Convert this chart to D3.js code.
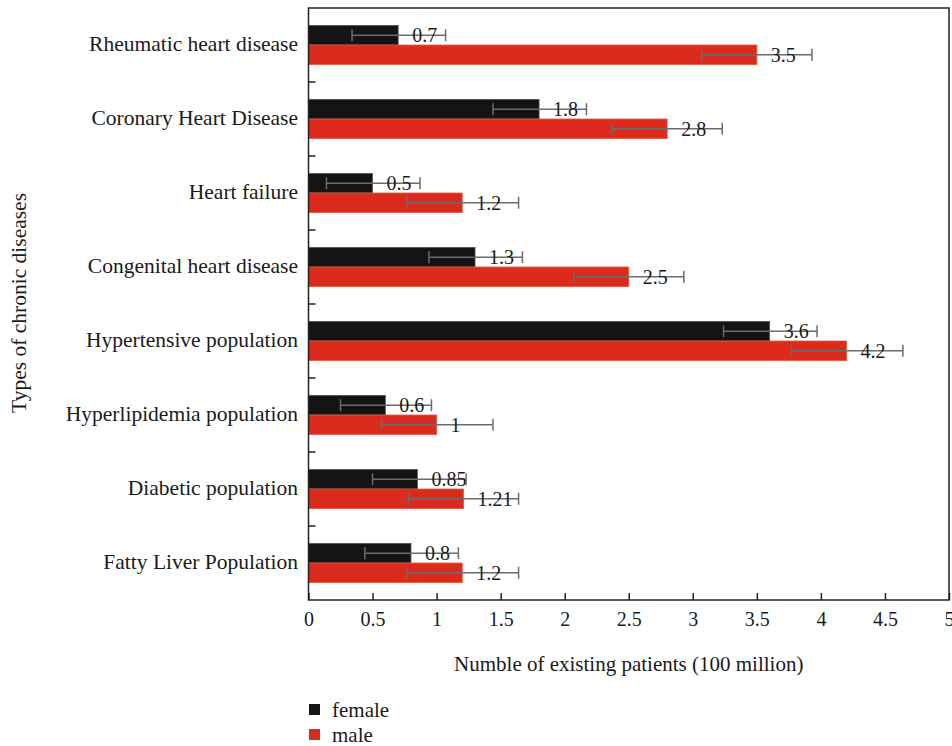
<!DOCTYPE html>
<html><head><meta charset="utf-8">
<script src="https://cdn.jsdelivr.net/npm/d3@7"></script>
<style>body{margin:0;background:#fff}svg{display:block}text{font-family:"Liberation Serif","Times New Roman",serif;fill:#1a1a1a}</style>
</head><body>
<svg id="c" width="952" height="746"></svg>
<script>
const categories = ["Rheumatic heart disease","Coronary Heart Disease","Heart failure","Congenital heart disease","Hypertensive population","Hyperlipidemia population","Diabetic population","Fatty Liver Population"];
const series = ["female","male"];
const femaleValues = [0.7,1.8,0.5,1.3,3.6,0.6,0.85,0.8];
const maleValues = [3.5,2.8,1.2,2.5,4.2,1,1.21,1.2];
const femaleLabels = ["0.7","1.8","0.5","1.3","3.6","0.6","0.85","0.8"];
const maleLabels = ["3.5","2.8","1.2","2.5","4.2","1","1.21","1.2"];
const femaleErrLow = [0.34,1.44,0.14,0.94,3.24,0.25,0.50,0.44];
const femaleErrHigh = [1.07,2.17,0.87,1.67,3.97,0.96,1.23,1.17];
const maleErrLow = [3.07,2.37,0.77,2.07,3.77,0.57,0.78,0.77];
const maleErrHigh = [3.93,3.23,1.64,2.93,4.64,1.44,1.64,1.64];
const xTicks = [0,0.5,1,1.5,2,2.5,3,3.5,4,4.5,5];
const xTickLabels = ["0","0.5","1","1.5","2","2.5","3","3.5","4","4.5","5"];
const colors = {female:"#141414", male:"#dc2a1c"};

const svg = d3.select("#c");
const L=308.5, R=949, T=8, B=600;
const x = d3.scaleLinear().domain([0,5]).range([L,R]);
const y = d3.scaleBand().domain(categories).range([T,B]).paddingInner(0.47).paddingOuter(0.235);
const ys = d3.scaleBand().domain(series).range([0,y.bandwidth()]);

const rows = [];
categories.forEach((c,i)=>{
  rows.push({c, s:"female", v:femaleValues[i], lab:femaleLabels[i], lo:femaleErrLow[i], hi:femaleErrHigh[i]});
  rows.push({c, s:"male", v:maleValues[i], lab:maleLabels[i], lo:maleErrLow[i], hi:maleErrHigh[i]});
});

// bars
svg.append("g").selectAll("rect").data(rows).join("rect")
  .attr("x", x(0)).attr("y", d=>y(d.c)+ys(d.s))
  .attr("width", d=>x(d.v)-x(0)).attr("height", ys.bandwidth())
  .attr("fill", d=>colors[d.s])
  .attr("stroke", d=>d.s==="female"?"#555":"#e8553f").attr("stroke-width",0.8);

// error bars
const eg = svg.append("g").attr("stroke","#6b6b6b").attr("stroke-width",1.5);
rows.forEach(d=>{
  const cy = y(d.c)+ys(d.s)+ys.bandwidth()/2;
  eg.append("line").attr("x1",x(d.lo)).attr("x2",x(d.hi)).attr("y1",cy).attr("y2",cy);
  eg.append("line").attr("x1",x(d.lo)).attr("x2",x(d.lo)).attr("y1",cy-6).attr("y2",cy+6);
  eg.append("line").attr("x1",x(d.hi)).attr("x2",x(d.hi)).attr("y1",cy-6).attr("y2",cy+6);
});

// value labels
svg.append("g").selectAll("text").data(rows).join("text")
  .attr("x", d=>x(d.v)+14).attr("y", d=>y(d.c)+ys(d.s)+ys.bandwidth()/2)
  .attr("dy","0.35em").attr("font-size",20).text(d=>d.lab);

// frame
svg.append("rect").attr("x",L).attr("y",T).attr("width",R-L).attr("height",B-T)
  .attr("fill","none").attr("stroke","#222").attr("stroke-width",1.5);

// x axis
const xa = svg.append("g").attr("transform",`translate(0,${B})`)
  .call(d3.axisBottom(x).tickValues(xTicks).tickSize(-7).tickPadding(12).tickFormat((d,i)=>xTickLabels[i]));
xa.select(".domain").remove();
xa.selectAll("line").attr("stroke","#222").attr("stroke-width",1.5);
xa.selectAll("text").attr("font-size",20).attr("font-family","Liberation Serif, serif").attr("fill","#1a1a1a");

// y ticks between categories
const ybounds = categories.slice(1).map(c=>y(c)-y.step()*y.paddingInner()/2);
svg.append("g").selectAll("line").data(ybounds).join("line")
  .attr("x1",L).attr("x2",L+7).attr("y1",d=>d).attr("y2",d=>d)
  .attr("stroke","#222").attr("stroke-width",1.5);

// category labels
svg.append("g").selectAll("text").data(categories).join("text")
  .attr("x",298).attr("y",c=>y(c)+y.bandwidth()/2).attr("dy","0.3em")
  .attr("text-anchor","end").attr("font-size",21.5).text(c=>c);

// axis titles
svg.append("text").attr("x",(L+R)/2).attr("y",671).attr("text-anchor","middle").attr("font-size",21)
  .text("Numble of existing patients (100 million)");
svg.append("text").attr("transform","translate(26,303) rotate(-90)").attr("text-anchor","middle").attr("font-size",21.5)
  .text("Types of chronic diseases");

// legend
const lg = svg.append("g").selectAll("g").data(series).join("g")
  .attr("transform",(d,i)=>`translate(309,${704+i*25})`);
lg.append("rect").attr("width",11).attr("height",11).attr("fill",d=>colors[d]);
lg.append("text").attr("x",23).attr("y",6).attr("dy","0.35em").attr("font-size",21).text(d=>d);
</script>
</body></html>
